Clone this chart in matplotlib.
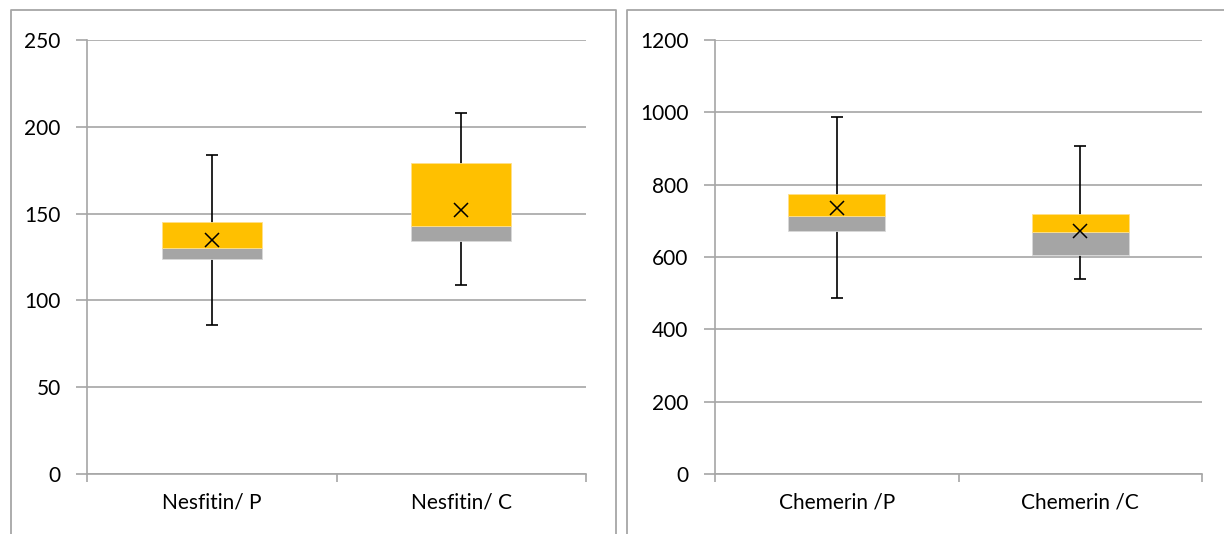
import matplotlib
matplotlib.use("Agg")
import matplotlib.pyplot as plt
from matplotlib.lines import Line2D

# values
left_cats = ["Nesfitin/ P", "Nesfitin/ C"]
left_min = [86, 109]
left_q1 = [124, 134]
left_med = [130, 143]
left_q3 = [145, 179]
left_max = [184, 208]
left_mean = [135, 152]

right_cats = ["Chemerin /P", "Chemerin /C"]
right_min = [487, 538]
right_q1 = [671, 606]
right_med = [714, 668]
right_q3 = [773, 718]
right_max = [988, 908]
right_mean = [735, 673]

YELLOW = "#FFC000"
GRAY = "#A5A5A5"
LINE = "#A6A6A6"

plt.rcParams["font.family"] = ["Lato", "DejaVu Sans"]
plt.rcParams["font.size"] = 15

W, H = 1224, 534
fig = plt.figure(figsize=(W / 100, H / 100), dpi=100)


def px_axes(x0, x1, y0, y1):
    return fig.add_axes([x0 / W, 1 - y1 / H, (x1 - x0) / W, (y1 - y0) / H])


def draw_box(ax, cats, lo, q1, med, q3, hi, mean, ymax, step):
    xs = range(len(cats))
    for x in xs:
        ax.vlines(x, lo[x], hi[x], color="black", lw=1.2, zorder=2)
        ax.hlines([lo[x], hi[x]], x - 0.025, x + 0.025, color="black", lw=1.2, zorder=2)
    ax.bar(xs, [m - a for a, m in zip(q1, med)], bottom=q1, width=0.4,
           color=GRAY, edgecolor="#D9D9D9", lw=0.6, zorder=3)
    ax.bar(xs, [b - m for m, b in zip(med, q3)], bottom=med, width=0.4,
           color=YELLOW, edgecolor="#FFE08A", lw=0.6, zorder=3)
    ax.plot(list(xs), mean, ls="none", marker="x", ms=10, mew=1.1,
            color="black", zorder=4)

    ax.set_xlim(-0.5, len(cats) - 0.5)
    ax.set_ylim(0, ymax)
    ax.set_yticks(range(0, ymax + 1, step))
    ax.yaxis.grid(True, color=LINE, lw=1.2)
    ax.set_axisbelow(True)
    ax.set_xticks(list(xs))
    ax.set_xticklabels(cats)
    ax.set_xticks([i - 0.5 for i in range(len(cats) + 1)], minor=True)
    ax.tick_params(axis="x", which="major", length=0, pad=13)
    ax.tick_params(axis="x", which="minor", length=6, color=LINE, width=1.2)
    ax.tick_params(axis="y", length=8, color=LINE, width=1.2, pad=11)
    for s in ["top", "right"]:
        ax.spines[s].set_visible(False)
    for s in ["left", "bottom"]:
        ax.spines[s].set_color(LINE)
        ax.spines[s].set_linewidth(1.2)


ax1 = px_axes(87, 586, 40, 474)
draw_box(ax1, left_cats, left_min, left_q1, left_med, left_q3, left_max, left_mean, 250, 50)

ax2 = px_axes(715, 1202, 40, 474)
draw_box(ax2, right_cats, right_min, right_q1, right_med, right_q3, right_max, right_mean, 1200, 200)

# chart area borders
def fig_line(xs, ys):
    fig.add_artist(Line2D([x / W for x in xs], [1 - y / H for y in ys],
                          color=LINE, lw=1.3, transform=fig.transFigure))

fig_line([11, 11, 616, 616], [540, 9.5, 9.5, 540])
fig_line([627, 627, 1230], [540, 9.5, 9.5])

fig.savefig("out.png", dpi=100)
